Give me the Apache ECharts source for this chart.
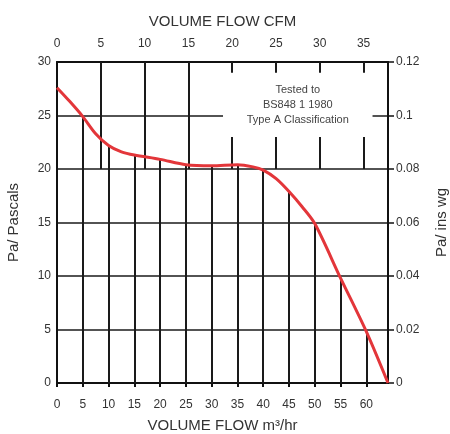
<!DOCTYPE html>
<html>
<head>
<meta charset="utf-8">
<script src="https://cdn.jsdelivr.net/npm/echarts@6/dist/echarts.min.js"></script>
<style>
  html, body { margin: 0; padding: 0; background: #fff; }
  #chart { width: 450px; height: 434px; }
</style>
</head>
<body>
<div id="chart"></div>
<script>
// fan curve
var flow = [0, 2.5, 5, 7.5, 10, 12.5, 15, 20, 25, 30, 35, 38, 40, 42.5, 45, 47.5, 50, 55, 60, 64.2];
var pascals = [27.6, 26.3, 24.9, 23.3, 22.2, 21.6, 21.3, 20.9, 20.4, 20.3, 20.4, 20.2, 19.9, 19.1, 17.9, 16.5, 14.9, 9.8, 4.8, 0];

var m3Ticks = [5, 10, 15, 20, 25, 30, 35, 40, 45, 50, 55, 60];
var cfmTicks = [5, 10, 15, 20, 25, 30, 35];
var M3_PER_CFM = 1.699;
var flowMax = 64.2;
var boxText = 'Tested to\nBS848 1 1980\nType A Classification';
// note box corners (m3/hr, Pa)
var box = [32.2, 23.0, 61.2, 29.0];

// pressure on the curve at a flow (for where grid lines stop)
function curveAt(x) {
    for (var i = 1; i < flow.length; i++) {
        if (x <= flow[i]) {
            var t = (x - flow[i - 1]) / (flow[i] - flow[i - 1]);
            return pascals[i - 1] + t * (pascals[i] - pascals[i - 1]);
        }
    }
    return 0;
}

var gridStyle = { color: '#1a1a1a', width: 2, type: 'solid' };

var m3Lines = m3Ticks.map(function (x) {
    return [{ coord: [x, 0] }, { coord: [x, curveAt(x)] }];
});
var cfmLines = [];
cfmTicks.forEach(function (c) {
    var f = c * M3_PER_CFM;
    if (f > box[0] && f < box[2]) {
        // broken by the note box
        cfmLines.push([{ coord: [c, 30] }, { coord: [c, box[3]] }]);
        cfmLines.push([{ coord: [c, box[1]] }, { coord: [c, 20] }]);
    } else {
        cfmLines.push([{ coord: [c, 30] }, { coord: [c, 20] }]);
    }
});

var txt = { color: '#333', fontFamily: 'Liberation Sans, Arial, sans-serif' };

var chart = echarts.init(document.getElementById('chart'));
chart.setOption({
    animation: false,
    grid: { left: 57, right: 62, top: 62, bottom: 51, outerBoundsMode: 'none' },
    xAxis: [{
        type: 'value', position: 'bottom', min: 0, max: flowMax, interval: 5,
        name: 'VOLUME FLOW m³/hr', nameLocation: 'middle', nameGap: 35,
        nameTextStyle: Object.assign({ fontSize: 15 }, txt),
        axisLine: { show: true, onZero: false, lineStyle: { color: '#111', width: 2 } },
        axisTick: { show: true, length: 4, lineStyle: { color: '#111', width: 2 } },
        axisLabel: Object.assign({ fontSize: 12, margin: 16, showMaxLabel: false }, txt),
        splitLine: { show: false }
    }, {
        type: 'value', position: 'top', min: 0, max: flowMax / M3_PER_CFM, interval: 5,
        name: 'VOLUME FLOW CFM', nameLocation: 'middle', nameGap: 33,
        nameTextStyle: Object.assign({ fontSize: 15 }, txt),
        axisLine: { show: true, onZero: false, lineStyle: { color: '#111', width: 2 } },
        axisTick: { show: false },
        axisLabel: Object.assign({ fontSize: 12, margin: 12, showMaxLabel: false }, txt),
        splitLine: { show: false }
    }],
    yAxis: [{
        type: 'value', position: 'left', min: 0, max: 30, interval: 5,
        name: 'Pa/ Pascals', nameLocation: 'middle', nameGap: 36, nameRotate: 90,
        nameTextStyle: Object.assign({ fontSize: 15 }, txt),
        axisLine: { show: true, onZero: false, lineStyle: { color: '#111', width: 2 } },
        axisTick: { show: false },
        axisLabel: Object.assign({ fontSize: 12, margin: 6 }, txt),
        splitLine: { show: true, lineStyle: { color: '#1a1a1a', width: 1.5 } }
    }, {
        type: 'value', position: 'right', min: 0, max: 0.12, interval: 0.02,
        name: 'Pa/ ins wg', nameLocation: 'middle', nameGap: 46, nameRotate: 90,
        nameTextStyle: Object.assign({ fontSize: 15 }, txt),
        axisLine: { show: true, onZero: false, lineStyle: { color: '#111', width: 2 } },
        axisTick: { show: true, length: 6, lineStyle: { color: '#111', width: 1.5 } },
        axisLabel: Object.assign({ fontSize: 12, margin: 8 }, txt),
        splitLine: { show: false }
    }],
    series: [{
        name: 'm3 grid', type: 'line', xAxisIndex: 0, yAxisIndex: 0, data: [], z: 1,
        markLine: { silent: true, symbol: ['none', 'none'], label: { show: false },
            lineStyle: gridStyle, emphasis: { disabled: true }, data: m3Lines }
    }, {
        name: 'cfm grid', type: 'line', xAxisIndex: 1, yAxisIndex: 0, data: [], z: 1,
        markLine: { silent: true, symbol: ['none', 'none'], label: { show: false },
            lineStyle: gridStyle, emphasis: { disabled: true }, data: cfmLines }
    }, {
        name: 'note', type: 'line', xAxisIndex: 0, yAxisIndex: 0, data: [], z: 3,
        markArea: {
            silent: true,
            itemStyle: { color: '#fff' },
            label: Object.assign({ show: true, position: 'inside', fontSize: 11, lineHeight: 15,
                formatter: boxText }, txt, { color: '#444' }),
            emphasis: { disabled: true },
            data: [[{ coord: [box[0], box[1]] }, { coord: [box[2], box[3]] }]]
        }
    }, {
        name: 'pressure', type: 'line', xAxisIndex: 0, yAxisIndex: 0, z: 5,
        data: flow.map(function (f, i) { return [f, pascals[i]]; }),
        smooth: 0.3, showSymbol: false,
        lineStyle: { color: '#e3363a', width: 3 }
    }]
});
</script>
</body>
</html>
